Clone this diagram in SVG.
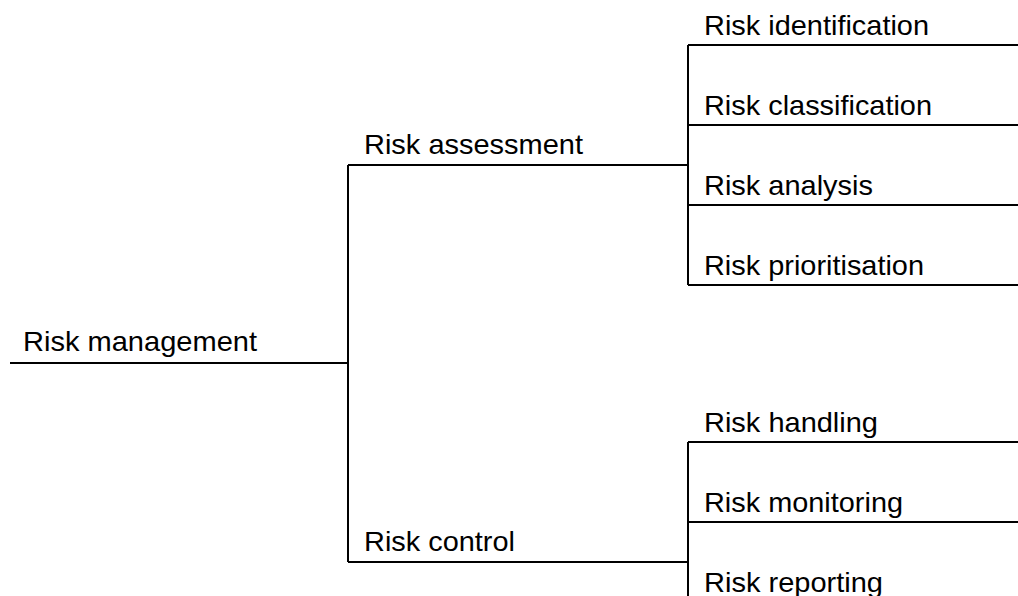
<svg xmlns="http://www.w3.org/2000/svg" width="1018" height="596" viewBox="0 0 1018 596">
<style>
text{font-family:"Liberation Sans",Arial,sans-serif;font-size:28px;fill:#000}
.c{stroke:#000;stroke-width:2;fill:none}
</style>
<rect width="1018" height="596" fill="#fff"/>
<g id="connectors">
<path class="c" d="M10 363H348M348 165V562M348 165H688M348 562H688"/>
<path class="c" d="M688 45V285M688 45H1018M688 125H1018M688 205H1018M688 285H1018"/>
<path class="c" d="M688 442V596M688 442H1018M688 522H1018"/>
</g>
<g id="n-root"><text x="23" y="351" textLength="234" lengthAdjust="spacingAndGlyphs">Risk management</text></g>
<g id="n-assess"><text x="364" y="154" textLength="219" lengthAdjust="spacingAndGlyphs">Risk assessment</text></g>
<g id="n-control"><text x="364" y="551" textLength="151" lengthAdjust="spacingAndGlyphs">Risk control</text></g>
<g id="n-ident"><text x="704" y="35" textLength="225" lengthAdjust="spacingAndGlyphs">Risk identification</text></g>
<g id="n-class"><text x="704" y="115" textLength="228" lengthAdjust="spacingAndGlyphs">Risk classification</text></g>
<g id="n-anal"><text x="704" y="195" textLength="169" lengthAdjust="spacingAndGlyphs">Risk analysis</text></g>
<g id="n-prio"><text x="704" y="275" textLength="220" lengthAdjust="spacingAndGlyphs">Risk prioritisation</text></g>
<g id="n-hand"><text x="704" y="432" textLength="174" lengthAdjust="spacingAndGlyphs">Risk handling</text></g>
<g id="n-mon"><text x="704" y="512" textLength="199" lengthAdjust="spacingAndGlyphs">Risk monitoring</text></g>
<g id="n-rep"><text x="704" y="592" textLength="179" lengthAdjust="spacingAndGlyphs">Risk reporting</text></g>
</svg>
